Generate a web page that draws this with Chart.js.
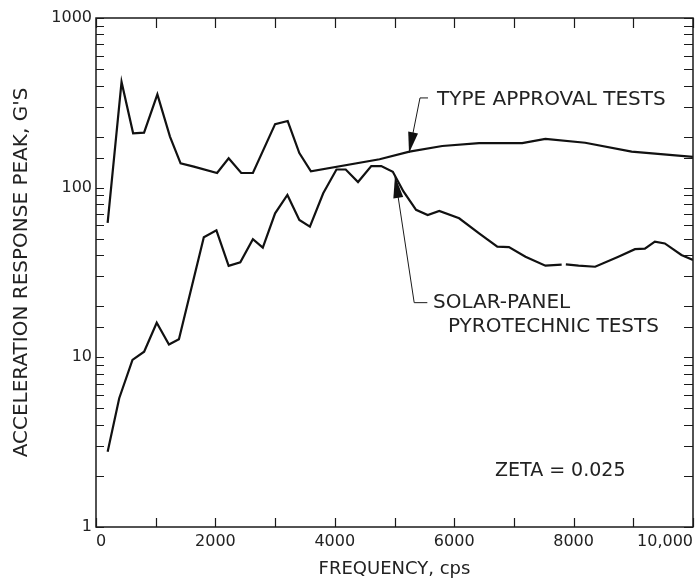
<!DOCTYPE html>
<html>
<head>
<meta charset="utf-8">
<script src="https://cdn.jsdelivr.net/npm/chart.js@4"></script>
<style>
html, body { margin: 0; padding: 0; background: #fff; overflow: hidden; }
</style>
</head>
<body>
<canvas id="chart" width="697" height="582"></canvas>
<script>
// frequency (cps) and peak acceleration (g)
var typeFreq = [195, 428, 622, 805, 1028, 1239, 1417, 1639, 2028, 2222, 2433, 2628, 3000, 3211, 3406, 3600, 4750, 5250, 5800, 6417, 7139, 7528, 8194, 8972, 10000];
var typeG = [62, 420, 209, 211, 355, 200, 139, 133, 122, 149, 122, 122, 237, 247, 160, 125, 147, 163, 176, 183, 183, 194, 184, 163, 152];

var solarFreq = [195, 389, 611, 806, 1017, 1222, 1389, 1806, 2017, 2222, 2417, 2628, 2794, 3000, 3206, 3406, 3583, 3806, 4028, 4183, 4389, 4611, 4778, 4972, 5150, 5361, 5556, 5750, 6083, 6417, 6722, 6917, 7194, 7528, 7800, 7835, 7870, 8083, 8361, 8750, 9028, 9194, 9361, 9528, 9806, 10000];
var solarG = [2.78, 5.74, 9.66, 10.8, 16.0, 11.9, 12.8, 51, 56, 34.6, 36.3, 49.7, 44.3, 70.6, 90.6, 64.5, 58.9, 92.7, 128, 128, 108, 134, 134, 124, 95, 74, 69, 73, 66, 53.8, 44.9, 44.6, 39.2, 34.7, 35.2, null, 35.3, 34.7, 34.2, 39.2, 43.4, 43.7, 48.1, 46.9, 40.1, 37.5];

var yLabelValues = [1, 10, 100, 1000];
var xLabelValues = [0, 2000, 4000, 6000, 8000, 10000];

var typeText = "TYPE APPROVAL TESTS";
var solarText = ["SOLAR-PANEL", "PYROTECHNIC TESTS"];
var zetaText = "ZETA = 0.025";

// leader lines in data units: [freq, g], last point is the arrow tip
var typeLeader = [[5561, 338], [5427, 338], [5243, 160]];
var solarLeader = [[5550, 21], [5330, 21], [5008, 117]];

function toXY(fr, g) {
    var pts = [];
    for (let i = 0; i < fr.length; i++) pts.push({ x: fr[i], y: g[i] });
    return pts;
}

function arrow(ctx, pts, headLen, headW) {
    ctx.beginPath();
    ctx.moveTo(pts[0][0], pts[0][1]);
    for (let i = 1; i < pts.length; i++) ctx.lineTo(pts[i][0], pts[i][1]);
    ctx.stroke();
    var tip = pts[pts.length - 1], prev = pts[pts.length - 2];
    var dx = tip[0] - prev[0], dy = tip[1] - prev[1];
    var len = Math.hypot(dx, dy), ux = dx / len, uy = dy / len;
    var bx = tip[0] - ux * headLen, by = tip[1] - uy * headLen;
    ctx.beginPath();
    ctx.moveTo(tip[0], tip[1]);
    ctx.lineTo(bx - uy * headW, by + ux * headW);
    ctx.lineTo(bx + uy * headW, by - ux * headW);
    ctx.closePath();
    ctx.fill();
}

var frame = {
    id: 'frame',
    afterDatasetsDraw(chart) {
        var ctx = chart.ctx, a = chart.chartArea;
        var xs = chart.scales.x, ys = chart.scales.y;
        ctx.save();
        ctx.strokeStyle = '#1a1a1a';
        ctx.fillStyle = '#111';
        ctx.lineWidth = 1.5;
        ctx.strokeRect(a.left, a.top, a.right - a.left, a.bottom - a.top);

        // inward tick marks on all four sides
        ctx.lineWidth = 1.2;
        ctx.beginPath();
        ys.ticks.forEach(t => {
            var py = Math.round(ys.getPixelForValue(t.value)) + 0.5;
            ctx.moveTo(a.left, py); ctx.lineTo(a.left + 8, py);
            ctx.moveTo(a.right, py); ctx.lineTo(a.right - 9, py);
        });
        xs.ticks.forEach(t => {
            var px = Math.round(xs.getPixelForValue(t.value)) + 0.5;
            ctx.moveTo(px, a.top); ctx.lineTo(px, a.top + 10);
            ctx.moveTo(px, a.bottom); ctx.lineTo(px, a.bottom - 9);
        });
        ctx.stroke();

        var P = (p) => [xs.getPixelForValue(p[0]), ys.getPixelForValue(p[1])];
        ctx.lineWidth = 1;
        arrow(ctx, typeLeader.map(P), 21, 5);
        arrow(ctx, solarLeader.map(P), 22, 5);

        ctx.fillStyle = '#222';
        ctx.font = '20px "DejaVu Sans"';
        ctx.textAlign = 'left';
        ctx.textBaseline = 'middle';
        ctx.fillText(typeText, xs.getPixelForValue(5712), ys.getPixelForValue(329));
        ctx.fillText(solarText[0], xs.getPixelForValue(5645), ys.getPixelForValue(20.9));
        ctx.fillText(solarText[1], xs.getPixelForValue(5896), ys.getPixelForValue(15.1));
        ctx.font = '19px "DejaVu Sans"';
        ctx.fillText(zetaText, xs.getPixelForValue(6683), ys.getPixelForValue(2.14));
        ctx.restore();
    }
};

var Ctx = document.getElementById('chart');
var Chart1 = new Chart(Ctx, {
    type: 'line',
    data: {
        datasets: [{
            label: typeText,
            data: toXY(typeFreq, typeG),
            borderColor: '#111',
            borderWidth: 2.2,
            pointRadius: 0,
            tension: 0
        }, {
            label: solarText.join(' '),
            data: toXY(solarFreq, solarG),
            borderColor: '#111',
            borderWidth: 2.2,
            pointRadius: 0,
            tension: 0,
            spanGaps: false
        }]
    },
    options: {
        responsive: false,
        animation: false,
        devicePixelRatio: 1,
        layout: { padding: { left: 0, top: 18, right: 4, bottom: 0 } },
        plugins: { legend: { display: false }, tooltip: { enabled: false } },
        scales: {
            x: {
                type: 'linear',
                min: 0,
                max: 10000,
                grid: { display: false, drawTicks: false },
                border: { display: false },
                ticks: {
                    stepSize: 1000,
                    autoSkip: false,
                    maxRotation: 0,
                    align: 'inner',
                    padding: 5,
                    color: '#222',
                    font: { family: 'DejaVu Sans', size: 16 },
                    callback: (v) => xLabelValues.includes(v) ? (v === 10000 ? '10,000' : String(v)) : ''
                },
                title: {
                    display: true,
                    text: 'FREQUENCY, cps',
                    color: '#222',
                    font: { family: 'DejaVu Sans', size: 18 },
                    padding: { top: 0, bottom: 2 }
                },
                afterFit: (s) => { s.height = 55; s.paddingLeft = 0; s.paddingRight = 0; }
            },
            y: {
                type: 'logarithmic',
                min: 1,
                max: 1000,
                grid: { display: false, drawTicks: false },
                border: { display: false },
                ticks: {
                    autoSkip: false,
                    padding: 4,
                    color: '#222',
                    font: { family: 'DejaVu Sans', size: 16 },
                    callback: (v) => yLabelValues.includes(v) ? String(v) : ''
                },
                title: {
                    display: true,
                    text: "ACCELERATION RESPONSE PEAK, G'S",
                    color: '#222',
                    font: { family: 'DejaVu Sans', size: 20 },
                    padding: { top: 10, bottom: 0 }
                },
                afterFit: (s) => { s.width = 96; s.paddingTop = 0; s.paddingBottom = 0; }
            }
        }
    },
    plugins: [frame]
});
</script>
</body>
</html>
